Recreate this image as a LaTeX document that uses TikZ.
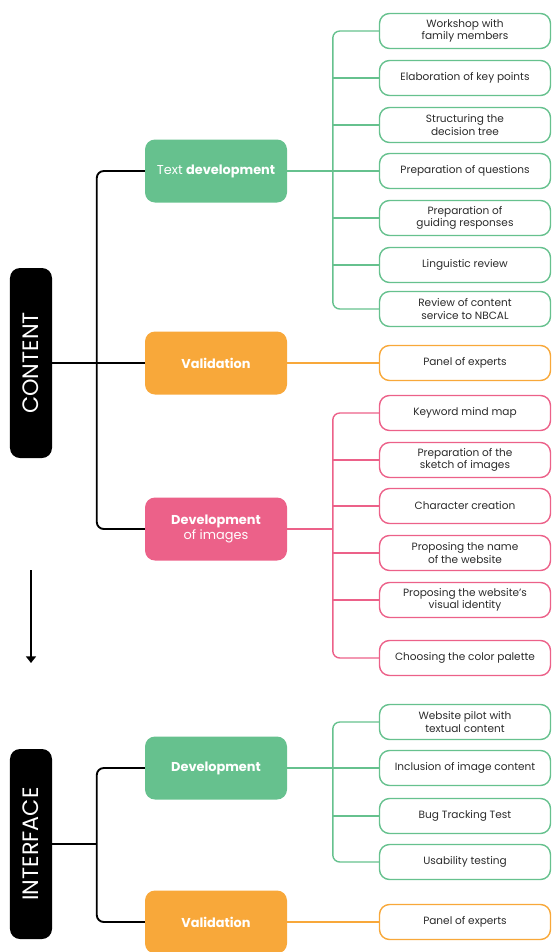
\documentclass[tikz,border=0pt]{standalone}
\usepackage{fontspec}
\setmainfont{Poppins}
\usetikzlibrary{positioning,arrows.meta,calc}
\definecolor{ink}{HTML}{2B2B2B}
\definecolor{green}{HTML}{66C18E}
\definecolor{orange}{HTML}{F8A83A}
\definecolor{pink}{HTML}{EC6189}
\tikzset{
  stage/.style={rounded corners=3mm,fill=black,text=white,rotate=90,
                font=\fontsize{19}{21}\selectfont,minimum width=57mm,minimum height=12.6mm},
  phase/.style={rounded corners=3mm,fill=#1,text=white,align=center,
                font=\fontsize{11}{12.5}\selectfont,minimum width=42.6mm,minimum height=18.9mm},
  phase/.default=green,
  task/.style={rounded corners=3mm,draw=#1,fill=white,line width=1.2pt,text=ink,align=center,
               font=\fontsize{9}{10.5}\selectfont,minimum width=51.3mm,minimum height=10.5mm},
  task/.default=green,
  branch/.style={line width=1.2pt,color=#1,rounded corners=6pt},
  spine/.style={line width=1.6pt,color=black,rounded corners=6pt},
}

\begin{document}
\begin{tikzpicture}[x=0.3mm,y=-0.3mm]
  \useasboundingbox (0,0) rectangle (553,952);
  % stages
  \node[stage] (content) at (31,363) {CONTENT};
  \node[stage] (interface) at (31,844) {INTERFACE};
  \coordinate (a1) at (31,570);
  \coordinate (a2) at (31,663);
  \draw[line width=1.6pt,-{Triangle[width=3mm,length=2mm]}] (a1) -- (a2);
  % phases
  \node[phase=green] (td) at (216,171) {Text \textbf{development}};
  \node[phase=orange] (cv) at (216,363) {\textbf{Validation}};
  \node[phase=pink] (di) at (216,529) {\textbf{Development}\\of images};
  \node[phase=green] (id) at (216,768) {\textbf{Development}};
  \node[phase=orange] (iv) at (216,922) {\textbf{Validation}};
  \draw[spine] (content.south) -- (cv.west);
  \draw[spine] (td.west) -- ++(-48,0) |- (di.west);
  \draw[spine] (interface.south) -- ++(45,0);
  \draw[spine] (id.west) -- ++(-48,0) |- (iv.west);
  % tasks
  \foreach \i/\y/\txt in {
    1/31/{Workshop with\\family members},
    2/78/{Elaboration of key points},
    3/125/{Structuring the\\decision tree},
    4/171/{Preparation of questions},
    5/218/{Preparation of\\guiding responses},
    6/265/{Linguistic review},
    7/309/{Review of content\\service to NBCAL}%
  }{
    \node[task=green] (t\i) at (465,\y) {\txt};
  }
  \draw[branch=green] (t1.west) -- ++(-46,0) |- (t7.west);
  \foreach \i in {2,...,6} \draw[branch=green] (t\i.west) -- ++(-46,0);
  \draw[branch=green] (td.east) -- ++(46,0);
  \node[task=orange] (cp) at (465,363) {Panel of experts};
  \draw[branch=orange] (cv.east) -- (cp.west);
  \foreach \i/\y/\txt in {
    1/413/{Keyword mind map},
    2/460/{Preparation of the\\sketch of images},
    3/506/{Character creation},
    4/553/{Proposing the name\\of the website},
    5/600/{Proposing the website's\\visual identity},
    6/658/{Choosing the color palette}%
  }{
    \node[task=pink] (p\i) at (465,\y) {\txt};
  }
  \draw[branch=pink] (p1.west) -- ++(-46,0) |- (p6.west);
  \foreach \i in {2,...,5} \draw[branch=pink] (p\i.west) -- ++(-46,0);
  \draw[branch=pink] (di.east) -- ++(46,0);
  \foreach \i/\y/\txt in {
    1/722/{Website pilot with\\textual content},
    2/768/{Inclusion of image content},
    3/816/{Bug Tracking Test},
    4/862/{Usability testing}%
  }{
    \node[task=green] (w\i) at (465,\y) {\txt};
  }
  \draw[branch=green] (w1.west) -- ++(-46,0) |- (w4.west);
  \foreach \i in {2,3} \draw[branch=green] (w\i.west) -- ++(-46,0);
  \draw[branch=green] (id.east) -- ++(46,0);
  \node[task=orange] (ip) at (465,922) {Panel of experts};
  \draw[branch=orange] (iv.east) -- (ip.west);
\end{tikzpicture}
\end{document}
